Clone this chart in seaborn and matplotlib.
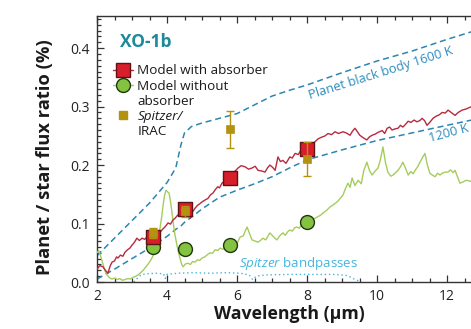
import matplotlib
matplotlib.use("Agg")
import matplotlib.pyplot as plt
from matplotlib.lines import Line2D
from matplotlib.ticker import MultipleLocator
import pandas as pd
import seaborn as sns

# ---------------- data ----------------
# Model spectrum with a stratospheric absorber
red_x = [2.00, 2.08, 2.17, 2.24, 2.31, 2.38, 2.43, 2.50, 2.56, 2.60, 2.67, 2.74, 2.80, 2.87,
         2.94, 3.00, 3.07, 3.14, 3.21, 3.29, 3.36, 3.43, 3.50, 3.57, 3.64, 3.72, 3.80, 3.87,
         3.94, 4.03, 4.10, 4.17, 4.23, 4.30, 4.37, 4.44, 4.50, 4.58, 4.66, 4.73, 4.80, 4.87,
         4.94, 5.00, 5.08, 5.17, 5.24, 5.31, 5.38, 5.45, 5.50, 5.57, 5.64, 5.72, 5.80, 5.88,
         5.95, 6.03, 6.12, 6.23, 6.33, 6.43, 6.52, 6.60, 6.70, 6.80, 6.87, 6.94, 7.02, 7.09,
         7.17, 7.24, 7.31, 7.40, 7.51, 7.58, 7.66, 7.75, 7.86, 7.93, 8.00, 8.10, 8.23, 8.32,
         8.43, 8.52, 8.60, 8.70, 8.80, 8.90, 9.03, 9.12, 9.23, 9.30, 9.37, 9.44, 9.51, 9.60,
         9.71, 9.78, 9.86, 9.95, 10.03, 10.15, 10.22, 10.29, 10.36, 10.43, 10.52, 10.60,
         10.67, 10.74, 10.82, 10.89, 10.97, 11.06, 11.14, 11.22, 11.29, 11.36, 11.43, 11.52,
         11.60, 11.70, 11.78, 11.86, 11.95, 12.03, 12.12, 12.23, 12.32, 12.43, 12.55, 12.70]
red_y = [0.022, 0.028, 0.026, 0.020, 0.015, 0.028, 0.034, 0.036, 0.043, 0.041, 0.046, 0.044,
         0.051, 0.055, 0.058, 0.063, 0.068, 0.075, 0.071, 0.075, 0.073, 0.077, 0.073, 0.076,
         0.079, 0.081, 0.085, 0.090, 0.094, 0.101, 0.099, 0.106, 0.109, 0.114, 0.118, 0.124,
         0.125, 0.117, 0.109, 0.120, 0.126, 0.131, 0.134, 0.137, 0.140, 0.143, 0.149, 0.152,
         0.158, 0.163, 0.161, 0.169, 0.172, 0.176, 0.180, 0.187, 0.190, 0.195, 0.199, 0.197,
         0.193, 0.195, 0.198, 0.191, 0.190, 0.188, 0.195, 0.200, 0.196, 0.191, 0.214, 0.206,
         0.208, 0.203, 0.214, 0.212, 0.220, 0.218, 0.229, 0.226, 0.227, 0.234, 0.240, 0.245,
         0.248, 0.250, 0.254, 0.252, 0.257, 0.254, 0.257, 0.255, 0.251, 0.258, 0.263, 0.257,
         0.251, 0.247, 0.243, 0.248, 0.251, 0.253, 0.256, 0.259, 0.254, 0.263, 0.265, 0.260,
         0.262, 0.263, 0.268, 0.265, 0.270, 0.275, 0.273, 0.277, 0.274, 0.276, 0.280, 0.276,
         0.268, 0.274, 0.280, 0.284, 0.286, 0.290, 0.289, 0.294, 0.290, 0.285, 0.290, 0.294,
         0.296, 0.300]

# Model spectrum without absorber
green_x = [2.00, 2.05, 2.10, 2.16, 2.22, 2.29, 2.36, 2.43, 2.51, 2.58, 2.65, 2.72, 2.80, 2.88,
           2.95, 3.00, 3.08, 3.17, 3.25, 3.32, 3.37, 3.45, 3.51, 3.57, 3.64, 3.71, 3.76, 3.80,
           3.85, 3.89, 3.93, 3.97, 4.02, 4.06, 4.10, 4.14, 4.18, 4.23, 4.30, 4.37, 4.42, 4.46,
           4.53, 4.60, 4.67, 4.73, 4.80, 4.87, 4.94, 5.00, 5.08, 5.16, 5.23, 5.30, 5.37, 5.45,
           5.52, 5.60, 5.68, 5.80, 5.90, 6.00, 6.09, 6.18, 6.24, 6.29, 6.35, 6.43, 6.52, 6.60,
           6.67, 6.74, 6.82, 6.88, 6.94, 7.02, 7.08, 7.14, 7.22, 7.31, 7.38, 7.45, 7.51, 7.58,
           7.65, 7.71, 7.78, 7.86, 8.00, 8.10, 8.20, 8.29, 8.38, 8.46, 8.57, 8.65, 8.75, 8.86,
           8.95, 9.03, 9.10, 9.17, 9.23, 9.29, 9.37, 9.46, 9.55, 9.62, 9.71, 9.79, 9.86, 9.95,
           10.03, 10.10, 10.17, 10.24, 10.31, 10.39, 10.46, 10.53, 10.60, 10.67, 10.74, 10.82,
           10.89, 10.97, 11.03, 11.09, 11.16, 11.23, 11.30, 11.37, 11.44, 11.51, 11.58, 11.66,
           11.73, 11.80, 11.86, 11.95, 12.03, 12.10, 12.17, 12.23, 12.30, 12.37, 12.45, 12.55,
           12.70]
green_y = [0.050, 0.054, 0.045, 0.033, 0.020, 0.012, 0.007, 0.005, 0.007, 0.004, 0.006, 0.003,
           0.004, 0.006, 0.005, 0.007, 0.009, 0.012, 0.016, 0.020, 0.024, 0.030, 0.035, 0.041,
           0.050, 0.063, 0.076, 0.092, 0.112, 0.132, 0.148, 0.157, 0.154, 0.152, 0.138, 0.120,
           0.100, 0.080, 0.058, 0.041, 0.030, 0.026, 0.031, 0.032, 0.030, 0.035, 0.034, 0.038,
           0.037, 0.041, 0.043, 0.047, 0.050, 0.049, 0.055, 0.054, 0.058, 0.056, 0.060, 0.063,
           0.068, 0.066, 0.077, 0.079, 0.088, 0.094, 0.084, 0.072, 0.070, 0.068, 0.071, 0.075,
           0.072, 0.078, 0.084, 0.079, 0.075, 0.072, 0.079, 0.084, 0.080, 0.086, 0.089, 0.087,
           0.093, 0.094, 0.092, 0.100, 0.103, 0.104, 0.108, 0.111, 0.114, 0.118, 0.123, 0.128,
           0.132, 0.137, 0.143, 0.149, 0.160, 0.169, 0.162, 0.178, 0.165, 0.174, 0.168, 0.190,
           0.205, 0.190, 0.183, 0.190, 0.195, 0.210, 0.231, 0.205, 0.188, 0.181, 0.183, 0.187,
           0.191, 0.197, 0.205, 0.194, 0.183, 0.189, 0.185, 0.191, 0.197, 0.205, 0.213, 0.220,
           0.200, 0.186, 0.183, 0.180, 0.186, 0.183, 0.186, 0.188, 0.188, 0.192, 0.187, 0.191,
           0.180, 0.169, 0.171, 0.174, 0.172]

# Planet black-body curves
bb_x = [2.0, 2.5, 3.0, 3.5, 4.0, 4.25, 4.4, 4.5, 4.7, 5.0, 5.5, 6.0, 6.5, 7.0, 7.5, 8.0,
        9.0, 10.0, 11.0, 12.0, 12.7]
bb1600_y = [0.045, 0.075, 0.105, 0.135, 0.170, 0.195, 0.235, 0.255, 0.266, 0.272, 0.280,
            0.288, 0.303, 0.318, 0.328, 0.337, 0.358, 0.378, 0.395, 0.415, 0.428]
bb1200_y = [0.005, 0.022, 0.040, 0.058, 0.078, 0.090, 0.096, 0.102, 0.111, 0.125, 0.145,
            0.157, 0.168, 0.180, 0.195, 0.209, 0.226, 0.242, 0.255, 0.268, 0.277]

# Spitzer IRAC bandpass outline
band_x = [3.05, 3.15, 3.25, 3.40, 3.70, 3.90, 3.95, 4.00, 4.30, 4.70, 5.20, 5.70, 6.10,
          6.35, 6.45, 6.55, 6.80, 7.50, 8.20, 8.80, 9.15, 9.35, 9.55]
band_y = [0.000, 0.006, 0.012, 0.014, 0.015, 0.014, 0.006, 0.013, 0.015, 0.016, 0.015,
          0.016, 0.015, 0.012, 0.004, 0.010, 0.012, 0.013, 0.013, 0.013, 0.011, 0.005, 0.000]

# Band-integrated model points and IRAC measurements
band_centres = [3.6, 4.5, 5.8, 8.0]
with_absorber = [0.077, 0.125, 0.178, 0.227]
without_absorber = [0.060, 0.056, 0.063, 0.103]
irac = [0.084, 0.121, 0.261, 0.210]
irac_err = [0.008, 0.009, 0.032, 0.029]

x_ticks = [2, 4, 6, 8, 10, 12]
y_ticks = [0.0, 0.1, 0.2, 0.3, 0.4]

# ---------------- style ----------------
RED_LINE = "#b82a3e"
RED_FACE = "#d81e2a"
RED_EDGE = "#5c1414"
GREEN_LINE = "#a4cd5c"
GREEN_FACE = "#84c241"
GREEN_EDGE = "#22380f"
GOLD = "#b39212"
BB_BLUE = "#2c86ae"
BAND_BLUE = "#44b6e0"
TEAL = "#1d8a9c"
TEXT_BLUE = "#2b8cbd"

sns.set_style("ticks")
plt.rcParams["font.family"] = ["Open Sans", "DejaVu Sans"]
plt.rcParams["mathtext.fontset"] = "custom"
plt.rcParams["mathtext.rm"] = "Open Sans"
plt.rcParams["mathtext.it"] = "Open Sans:italic"

fig = plt.figure(figsize=(4.71, 3.29), dpi=100)
ax = fig.add_axes([97 / 471, 47 / 329, 374 / 471, 266 / 329])

red_df = pd.DataFrame({"wl": red_x, "ratio": red_y})
green_df = pd.DataFrame({"wl": green_x, "ratio": green_y})
bb_df = pd.DataFrame({"wl": bb_x, "t1600": bb1600_y, "t1200": bb1200_y})
band_df = pd.DataFrame({"wl": band_x, "ratio": band_y})
pts = pd.DataFrame({"wl": band_centres, "with": with_absorber,
                    "without": without_absorber, "irac": irac, "err": irac_err})

# curves
sns.lineplot(data=band_df, x="wl", y="ratio", ax=ax, color=BAND_BLUE, lw=1.0,
             linestyle=(0, (1, 2)), estimator=None, sort=False, zorder=2)
sns.lineplot(data=bb_df, x="wl", y="t1600", ax=ax, color=BB_BLUE, lw=1.1,
             linestyle=(0, (4, 2.5)), estimator=None, sort=False, zorder=2)
sns.lineplot(data=bb_df, x="wl", y="t1200", ax=ax, color=BB_BLUE, lw=1.1,
             linestyle=(0, (4, 2.5)), estimator=None, sort=False, zorder=2)
sns.lineplot(data=green_df, x="wl", y="ratio", ax=ax, color=GREEN_LINE, lw=1.0,
             estimator=None, sort=False, zorder=3)
sns.lineplot(data=red_df, x="wl", y="ratio", ax=ax, color=RED_LINE, lw=1.0,
             estimator=None, sort=False, zorder=3)

# band-integrated points
sns.scatterplot(data=pts, x="wl", y="without", ax=ax, marker="o", s=100,
                color=GREEN_FACE, edgecolor=GREEN_EDGE, linewidth=1.0, zorder=5)
sns.scatterplot(data=pts, x="wl", y="with", ax=ax, marker="s", s=115,
                color=RED_FACE, edgecolor=RED_EDGE, linewidth=1.0, zorder=6)
ax.errorbar(pts["wl"], pts["irac"], yerr=pts["err"], fmt="none", ecolor=GOLD,
            elinewidth=1.0, capsize=3, capthick=1.0, zorder=7)
sns.scatterplot(data=pts, x="wl", y="irac", ax=ax, marker="s", s=34,
                color=GOLD, edgecolor=GOLD, linewidth=0.5, zorder=8)

# axes
ax.set_xlim(2, 2 + 374 / 35)
ax.set_ylim(0, 0.455)
ax.set_xticks(x_ticks)
ax.set_xticklabels([str(t) for t in x_ticks])
ax.set_yticks(y_ticks)
ax.set_yticklabels([f"{t:.1f}" for t in y_ticks])
ax.xaxis.set_minor_locator(MultipleLocator(0.5))
ax.yaxis.set_minor_locator(MultipleLocator(0.01))
ax.tick_params(axis="both", which="both", direction="in", top=True, right=False,
               color="#333333", width=0.9)
ax.tick_params(axis="both", which="major", length=5, labelsize=10, pad=5,
               labelcolor="#222222")
ax.tick_params(axis="both", which="minor", length=2.6)
ax.spines["right"].set_visible(False)
for s in ("left", "bottom", "top"):
    ax.spines[s].set_color("#333333")
    ax.spines[s].set_linewidth(1.0)

ax.set_xlabel("Wavelength (μm)", fontsize=12.8, fontweight="bold", color="#1a1a1a")
ax.set_ylabel("Planet / star flux ratio (%)", fontsize=13.2, fontweight="bold",
              color="#1a1a1a")
ax.xaxis.set_label_coords(0.515, -0.085)
ax.yaxis.set_label_coords(-0.115, 0.47)

# annotations
ax.text(2.66, 0.41, "XO-1b", fontsize=12.5, fontweight="bold", color=TEAL,
        ha="left", va="center")
ax.text(10.12, 0.358, "Planet black body 1600 K", fontsize=9.3, color=TEXT_BLUE,
        rotation=17.5, ha="center", va="center", rotation_mode="anchor")
ax.text(12.06, 0.254, "1200 K", fontsize=9.3, color=TEXT_BLUE,
        rotation=15, ha="center", va="center", rotation_mode="anchor")
ax.text(7.77, 0.031, r"$\mathit{Spitzer}$ bandpasses", fontsize=9.6,
        color=BAND_BLUE, ha="center", va="center")

# legend
h_with = Line2D([], [], color=RED_LINE, lw=1.0, marker="s", markersize=10.5,
                markerfacecolor=RED_FACE, markeredgecolor=RED_EDGE, markeredgewidth=1.0)
h_without = Line2D([], [], color=GREEN_LINE, lw=1.0, marker="o", markersize=10,
                   markerfacecolor=GREEN_FACE, markeredgecolor=GREEN_EDGE,
                   markeredgewidth=1.0)
h_blank = Line2D([], [], linestyle="none")
h_irac = Line2D([], [], linestyle="none", marker="s", markersize=5.5,
                markerfacecolor=GOLD, markeredgecolor=GOLD)
leg = ax.legend([h_with, h_without, h_blank, h_irac, h_blank],
                ["Model with absorber", "Model without", "absorber", "Spitzer/", "IRAC"],
                loc="upper left", bbox_to_anchor=(0.043, 0.818), frameon=False,
                fontsize=9.7, handlelength=1.5, handletextpad=0.3, labelspacing=0.16,
                borderaxespad=0, borderpad=0)
for t in leg.get_texts():
    t.set_color("#1a1a1a")
leg.get_texts()[3].set_fontstyle("italic")

fig.savefig("out.png", dpi=100)
